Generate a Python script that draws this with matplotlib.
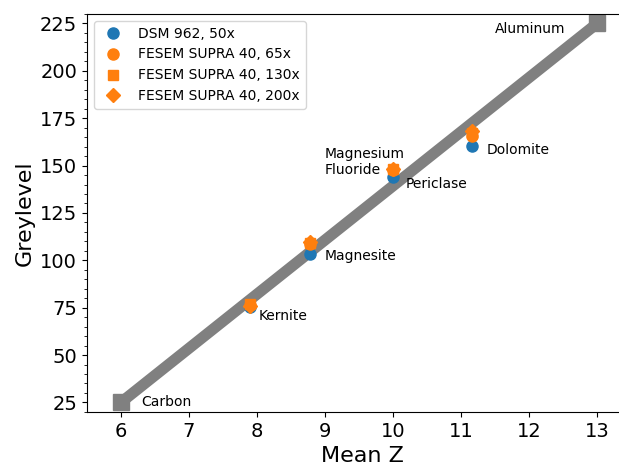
import matplotlib
matplotlib.use("Agg")
import matplotlib.pyplot as plt
from matplotlib.ticker import MultipleLocator

# calibration line (carbon -> aluminum)
cal_z = [6, 13]
cal_grey = [25, 225]

# minerals
names = ["Kernite", "Magnesite", "Periclase", "Dolomite"]
z_dsm = [7.9, 8.78, 10.0, 11.16]
grey_dsm = [75.5, 103.2, 144.0, 160.5]

z_fesem = [7.9, 8.78, 10.0, 11.16]
grey_65x = [76.5, 108.5, 147.5, 165.5]
grey_130x = [77.0, 109.0, 148.0, 167.0]
grey_200x = [76.0, 109.5, 148.0, 168.0]

blue = "#1f77b4"
orange = "#ff7f0e"

fig = plt.figure(figsize=(6.19, 4.67), dpi=100)
# right edge of the axes runs past the figure, as in the cropped original
ax = fig.add_axes([0.1405, 0.118, 0.879 * 8.1 / 8, 0.852])

ax.plot(cal_z, cal_grey, color="gray", lw=8, marker="s", markersize=12, zorder=1)
ax.plot(z_dsm, grey_dsm, "o", color=blue, markersize=8, label="DSM 962, 50x", zorder=2)
ax.plot(z_fesem, grey_65x, "o", color=orange, markersize=8, label="FESEM SUPRA 40, 65x", zorder=3)
ax.plot(z_fesem, grey_130x, "s", color=orange, markersize=7, label="FESEM SUPRA 40, 130x", zorder=3)
ax.plot(z_fesem, grey_200x, "D", color=orange, markersize=7, label="FESEM SUPRA 40, 200x", zorder=3)

ax.text(11.5, 222, "Aluminum", fontsize=10, va="center")
ax.text(6.3, 25, "Carbon", fontsize=10, va="center")
ax.text(8.02, 70.5, "Kernite", fontsize=10, va="center")
ax.text(9.0, 102.5, "Magnesite", fontsize=10, va="center")
ax.text(10.18, 140.5, "Periclase", fontsize=10, va="center")
ax.text(11.38, 158, "Dolomite", fontsize=10, va="center")
ax.text(9.0, 152, "Magnesium\nFluoride", fontsize=10, va="center", ha="left")

ax.set_xlim(5.5, 13.6)
ax.set_ylim(20, 230)
ax.set_xticks(range(6, 14))
ax.set_yticks(range(25, 226, 25))
ax.yaxis.set_minor_locator(MultipleLocator(5))
ax.tick_params(labelsize=14)
ax.set_xlabel("Mean Z", fontsize=16)
ax.set_ylabel("Greylevel", fontsize=16)
ax.legend(loc="upper left", fontsize=10)

fig.savefig("out.png", dpi=100)
